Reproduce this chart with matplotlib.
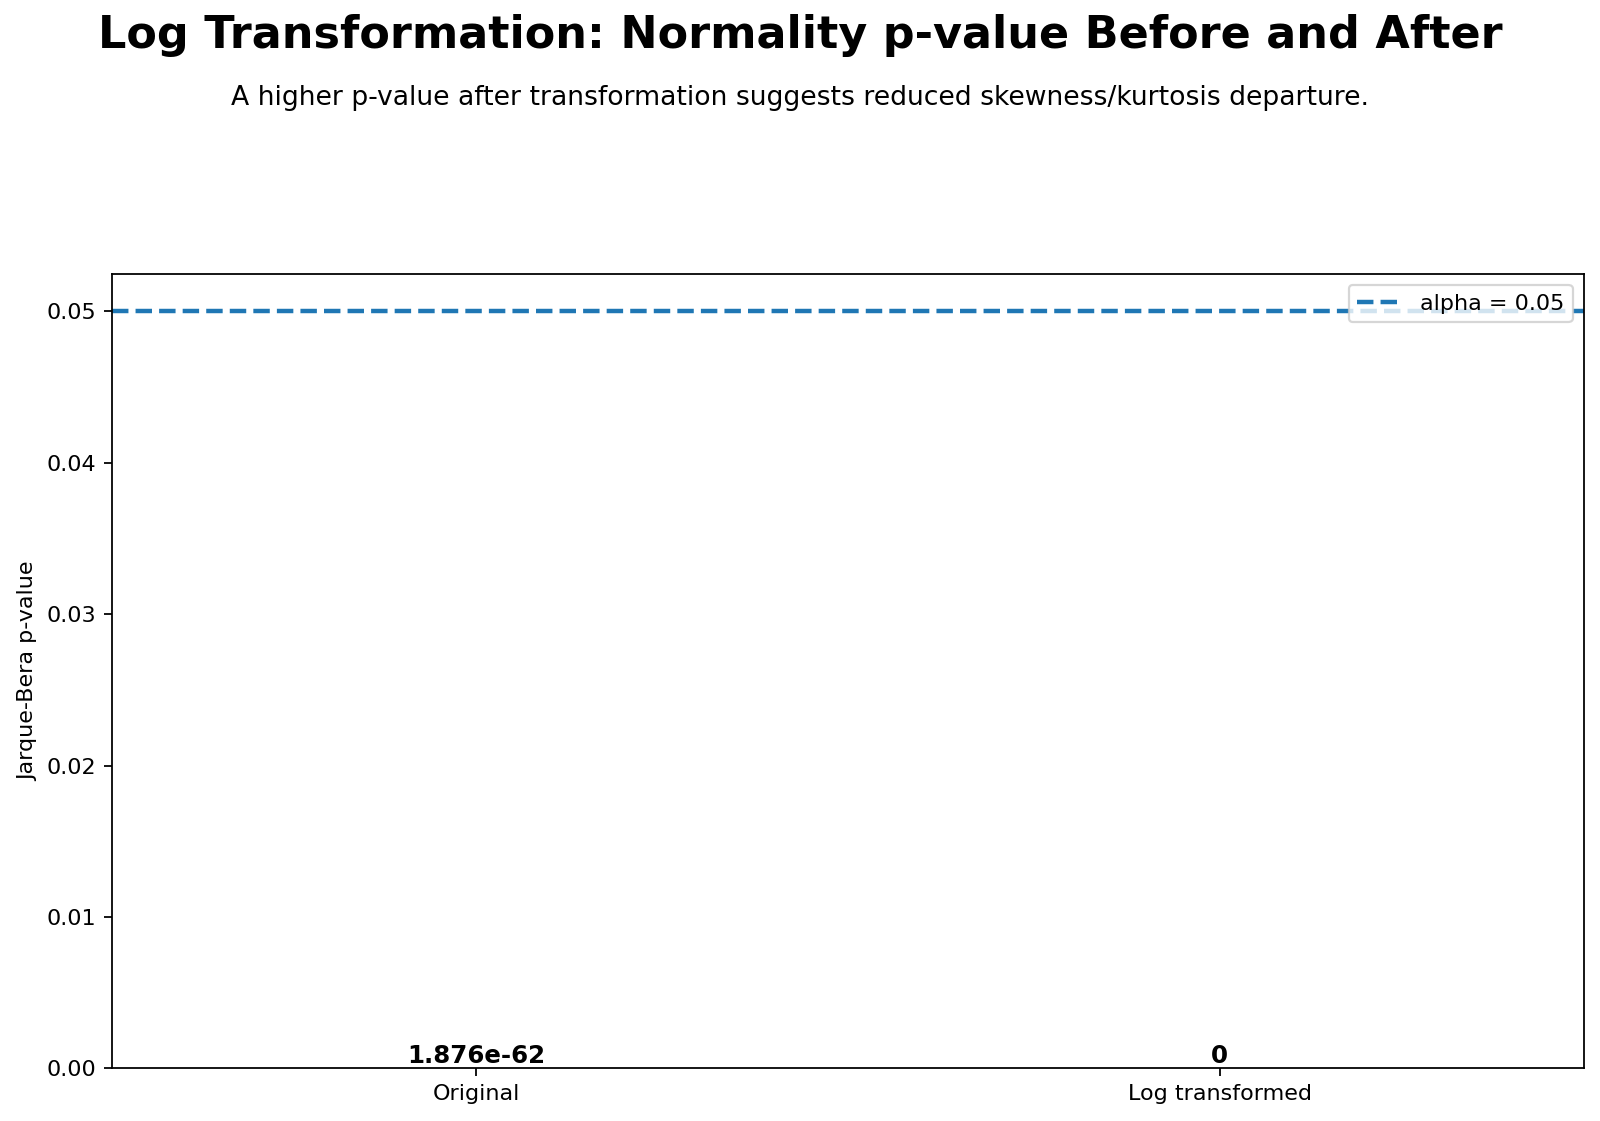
import matplotlib
matplotlib.use("Agg")
import matplotlib.pyplot as plt

labels = ["Original", "Log transformed"]
pvalues = [1.876e-62, 0.0]
alpha = 0.05

fig, ax = plt.subplots(figsize=(1600 / 160, 1121 / 160), dpi=160)
fig.subplots_adjust(left=0.07, right=0.99, top=0.756, bottom=0.047)

bars = ax.bar(labels, pvalues)
ax.axhline(alpha, linestyle="--", linewidth=2, label=f"alpha = {alpha}")

# value labels on top of (invisible) bars
for b, v in zip(bars, pvalues):
    ax.text(b.get_x() + b.get_width() / 2, v, f"{v:.4g}",
            ha="center", va="bottom", fontsize=11, fontweight="bold")

ax.set_ylabel("Jarque-Bera p-value")
ax.legend(loc="upper right")

fig.suptitle("Log Transformation: Normality p-value Before and After",
             fontsize=20, fontweight="bold", y=0.968, va="center")
fig.text(0.5, 0.913, "A higher p-value after transformation suggests reduced skewness/kurtosis departure.",
         ha="center", va="center", fontsize=12)

fig.savefig("out.png", dpi=160)
